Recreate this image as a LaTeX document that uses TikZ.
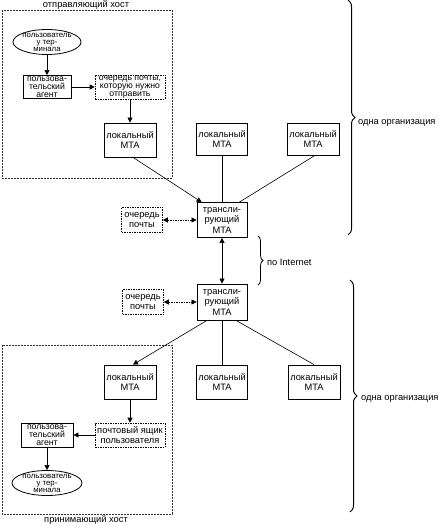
\documentclass[tikz,border=0pt]{standalone}
\usepackage{fontspec}
\setmainfont{Liberation Sans}
\usetikzlibrary{arrows.meta,shapes.geometric,decorations.pathreplacing}

\begin{document}
\begin{tikzpicture}[x=1pt,y=-1pt,
  font=\fontsize{9.3}{10.5}\selectfont,
  box/.style={draw=black,line width=0.8pt,align=center,inner sep=0pt,fill=white},
  tight/.style={font=\fontsize{8.7}{7.8}\selectfont},
  qbox/.style={draw=black,dash pattern=on 1.5pt off 1pt,line width=0.6pt,align=center,inner sep=0pt},
  user/.style={draw=black,ellipse,line width=0.8pt,align=center,inner xsep=-1pt,inner ysep=-2.5pt,
    minimum width=68pt,minimum height=25pt,font=\fontsize{7.8}{7}\selectfont},
  host/.style={draw=black!80,dash pattern=on 2pt off 1pt,line width=0.5pt},
  line/.style={draw=black,line width=0.6pt},
  arr/.style={line,-{Triangle[length=5pt,width=5pt]}},
  darr/.style={line,{Triangle[length=5pt,width=5pt]}-{Triangle[length=5pt,width=5pt]}},
  qarr/.style={darr,dash pattern=on 1.5pt off 1pt},
  label/.style={inner sep=1pt},
  org/.style={draw=black,line width=1pt,decorate,decoration={brace,amplitude=7pt}},
]
\useasboundingbox (0,0) rectangle (438,526);

\draw[host] (2,10) rectangle (172,178);
\node[label] (sendhost) at (86,5.5) {отправляющий хост};
\draw[host] (2,345) rectangle (172,514);
\node[label] (recvhost) at (86,520.5) {принимающий хост};

\node[user] (usend) at (47,42) {пользователь\\у тер-\\минала};
\node[box,tight,minimum width=48pt,minimum height=23pt] (uasend) at (47,87) {пользова-\\тельский\\агент};
\node[qbox,tight,minimum width=70pt,minimum height=24pt] (qsend) at (130,87) {очередь почты,\\которую нужно\\отправить};

\node[box,minimum width=52pt,minimum height=34pt] (mta1) at (130,140) {локальный\\MTA};
\node[box,minimum width=51pt,minimum height=32pt] (mta2) at (222,139) {локальный\\MTA};
\node[box,minimum width=52pt,minimum height=32pt] (mta3) at (313,139) {локальный\\MTA};

\node[box,minimum width=50pt,minimum height=35pt] (relay1) at (222,220) {трансли-\\рующий\\MTA};
\node[qbox,minimum width=41pt,minimum height=25pt] (qr1) at (142,220) {очередь\\почты};
\node[box,minimum width=50pt,minimum height=36pt] (relay2) at (222,302) {трансли-\\рующий\\MTA};
\node[qbox,minimum width=41pt,minimum height=25pt] (qr2) at (143,302) {очередь\\почты};

\node[box,minimum width=52pt,minimum height=34pt] (mtab1) at (130,382) {локальный\\MTA};
\node[box,minimum width=51pt,minimum height=34pt] (mtab2) at (222,382) {локальный\\MTA};
\node[box,minimum width=52pt,minimum height=34pt] (mtab3) at (314,382) {локальный\\MTA};

\node[qbox,minimum width=70pt,minimum height=24pt] (mailbox) at (130,435) {почтовый ящик\\пользователя};
\node[box,tight,minimum width=52pt,minimum height=24pt] (uarecv) at (47,435) {пользова-\\тельский\\агент};
\node[user,minimum width=70pt] (urecv) at (47,483) {пользователь\\у тер-\\минала};

\draw[arr] (usend) -- (uasend);
\draw[arr] (uasend) -- (qsend);
\draw[arr] (qsend) -- (mta1);
\draw[arr] ([xshift=3pt]mta1.south) -- ([xshift=5pt]relay1.north west);
\draw[line] (mta2) -- (relay1);
\draw[line] ([xshift=2pt]mta3.south) -- ([xshift=-8pt]relay1.north east);
\draw[qarr] (qr1) -- (relay1);
\draw[darr] (relay1) -- (relay2);
\draw[qarr] (qr2) -- (relay2);
\draw[arr] ([xshift=-15pt]relay2.south) -- ([xshift=3pt]mtab1.north);
\draw[line] (relay2) -- (mtab2);
\draw[line] ([xshift=14pt]relay2.south) -- (mtab3.north);
\draw[arr] (mtab1) -- (mailbox);
\draw[arr] (mailbox) -- (uarecv);
\draw[arr] (uarecv) -- (urecv);

\draw[org] (348,0) -- (348,235);
\node[label,anchor=west] (org1) at (357,123) {одна организация};
\draw[org,line width=0.8pt,decoration={amplitude=5pt}] (258,236) -- (258,285);
\node[label,anchor=west] (inet) at (266,262) {по Internet};
\draw[org] (350,280) -- (350,512);
\node[label,anchor=west] (org2) at (360,399) {одна организация};

\end{tikzpicture}
\end{document}
